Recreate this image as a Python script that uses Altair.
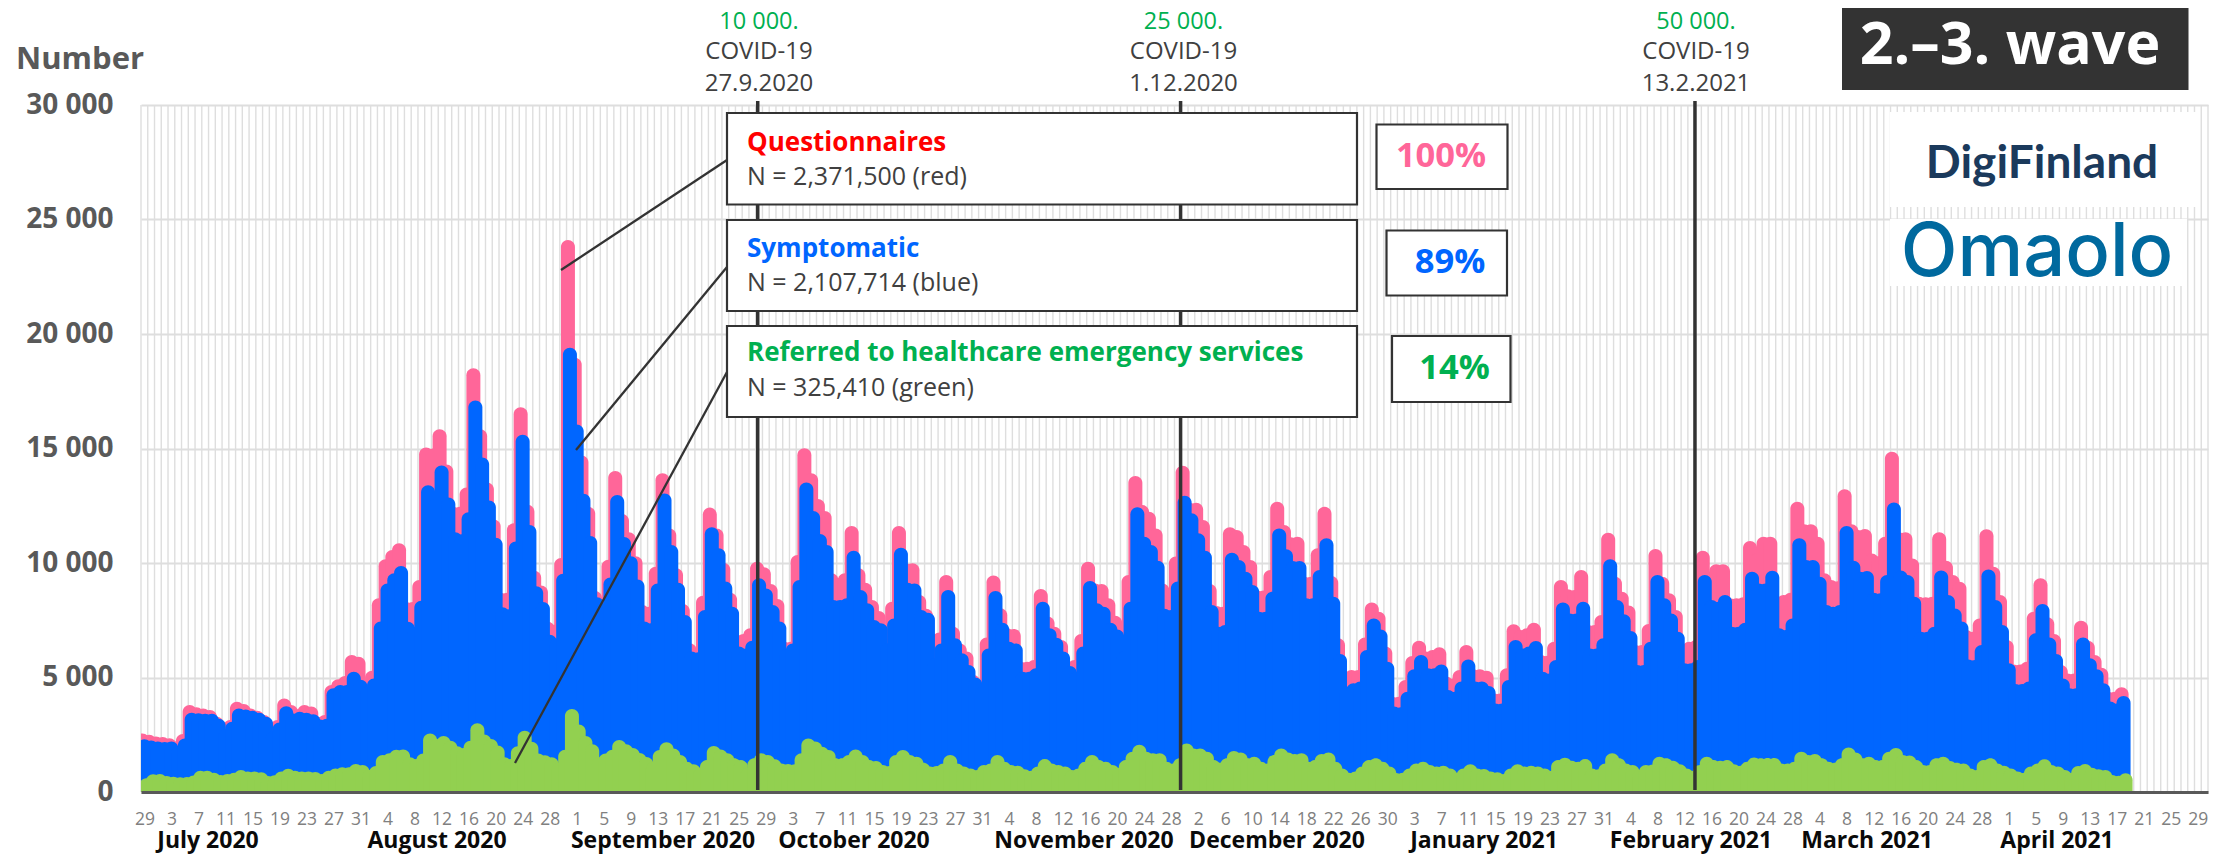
import json
import altair as alt
import pandas as pd

pink = [
2560,2500,2420,2400,2350,2200,2530, 3800,3700,3650,3580,3290,2780,3140,
3940,3840,3650,3550,3360,2700,3140, 4080,3800,3610,3800,3730,3290,3360,
4670,4920,5070,5980,5910,4890,5300, 8460,10160,10570,10860,8300,8300,9260,
15040,15000,15840,14300,12460,12460,13300, 18500,15840,13520,11900,8700,8700,11740,
16800,12540,9660,9020,7430,7300,10220, 24100,18960,14690,12460,8780,8500,10140,
14020,12140,11340,10300,8170,8090,9840, 13920,11510,9770,8210,6500,6200,8570,
12420,11510,10010,8700,6860,6900,7150, 10060,9810,9080,8430,6560,6560,10350,
15010,13920,12790,12270,9550,9330,9550, 11620,9770,9140,8380,7900,6640,8310,
11620,9990,9990,8600,8000,6350,6960, 9480,7220,6490,6130,5110,4700,6750,
9450,8020,7150,7120,5690,5690,5760, 8860,7660,7220,6640,5700,5760,6900,
10060,9110,9080,8460,7700,6200,9480, 13800,12530,12240,11510,9110,8900,10280,
14250,12630,12630,11880,9080,8120,8090, 11560,11440,10790,10130,8800,8800,9690,
12680,11660,11120,11150,9400,9400,10640, 12460,9430,6710,5180,5330,5330,6750,
8270,7870,6350,4160,4160,4890,5940, 6610,6130,6200,6320,5040,4960,5330,
6420,5360,5360,5300,4310,4300,5400, 7320,7070,7150,7390,5980,5950,6560,
9260,8850,8820,9690,7290,7290,7730, 11320,9400,8750,8140,6420,6420,7340,
10610,9400,8680,7950,6270,6560,6640, 10540,9620,9940,9940,8460,8460,8500,
10960,10420,11150,11150,8460,8600,8700, 12680,11690,11690,11150,9550,9260,9200,
13220,11690,11440,11490,10420,10300,11150, 14860,11340,11340,10200,8530,8500,8530,
11340,10100,9480,9180,7070,7000,7580, 11470,9840,8600,6640,5570,5570,5690,
7870,9330,7630,6900,5550,5180,5180, 7480,6610,5980,5430,4380,4380,4570,
]
blue = [
2300,2250,2200,2180,2200,2000,2340, 3460,3440,3420,3420,3200,2750,3070,
3650,3600,3550,3460,3290,2650,3030, 3750,3430,3500,3460,3390,3170,3200,
4530,4670,4670,5250,4900,4600,4960, 7440,9100,9550,9870,7430,7200,8350,
13400,12800,14260,12860,11340,11260,12220, 17100,14610,12730,11100,8065,7985,10940,
15600,11660,8990,8300,6870,6700,9530, 19400,16050,13020,11180,8500,8065,9370,
12970,11130,10300,9280,7440,7370,9110, 13040,10790,9140,7730,6130,6100,7950,
11560,10640,9190,8090,6350,6270,6610, 9330,8890,8170,7440,6200,6490,9260,
13520,12270,11270,10790,8380,8380,8460, 10540,8820,8240,7510,7370,6500,7580,
10670,9140,9110,7950,7830,5840,6490, 8820,6710,6060,5550,5000,4600,6270,
8780,7390,6560,6490,5250,5250,5400, 8310,7150,6740,6130,5500,5250,6350,
9210,8240,8090,7390,7100,6130,8310, 12430,11150,10790,10100,8000,7950,9190,
12940,12170,11300,10540,8170,7220,7290, 10450,10130,9620,9040,7870,7870,8750,
11510,10600,10090,10090,8460,8460,9690, 11080,8530,6030,4600,4750,4820,6200,
7580,7100,5690,3730,3700,4380,5360, 5980,5400,5400,5570,4450,4380,4820,
5790,4820,4820,4630,3870,3870,4890, 6640,6270,6350,6590,5250,5180,5760,
8270,7800,7800,8310,6270,6270,6710, 10160,8380,7760,7030,5550,5550,6560,
9480,8460,7800,7000,5620,5620,5760, 9480,8380,8310,8600,7220,7220,7390,
9620,9110,9110,9660,7150,7070,7580, 11080,10130,10130,9400,8170,8090,8170,
11620,10100,9620,9650,8700,8680,9480, 12640,9670,9480,8530,7000,7000,7220,
9670,8600,8010,7440,5790,5760,6420, 9720,8380,7290,5620,4720,4720,4820,
6930,8210,6750,6030,4960,4530,4530, 6750,5840,5360,4750,3950,3870,4190,
]
green = [
600,780,790,700,670,640,650, 720,930,930,840,740,790,840,
960,890,890,860,700,730,890, 1020,930,890,890,870,790,930,
1030,1080,1080,1220,1180,960,1135, 1615,1690,1840,1860,1520,1440,1680,
2555,2310,2440,2240,2000,1920,2240, 3000,2510,2310,2030,1520,1440,2000,
2680,2190,1680,1600,1520,1280,1840, 3625,2950,2440,2080,1520,1680,1840,
2270,2080,1920,1700,1530,1320,1830, 2170,1900,1620,1320,1210,1060,1400,
2010,1860,1690,1470,1400,1060,1470, 1690,1620,1430,1250,1220,1210,1690,
2340,2200,1980,1830,1470,1470,1620, 1860,1620,1400,1350,1180,1140,1620,
1830,1620,1540,1280,1110,1140,1250, 1620,1250,1110,1030,960,1180,1250,
1620,1320,1180,1150,990,930,1110, 1440,1250,1180,1110,960,1030,1320,
1620,1400,1320,1180,1060,1400,1760, 2060,1760,1690,1690,1320,1250,1470,
2120,1900,1900,1760,1400,1280,1470, 1790,1720,1470,1540,1320,1250,1620,
1900,1720,1660,1690,1320,1400,1660, 1730,1320,1030,840,890,1110,1400,
1470,1320,1110,830,840,1030,1250, 1320,1180,1110,1150,1030,840,1030,
1210,1030,1000,890,860,790,1030, 1210,1110,1150,1110,1030,930,1400,
1500,1370,1320,1440,1030,990,1250, 1690,1470,1250,1180,960,1180,1200,
1540,1470,1370,1210,1030,930,1180, 1540,1400,1370,1400,1210,1150,1320,
1510,1470,1480,1480,1250,1250,1320, 1760,1620,1660,1470,1320,1280,1470,
1940,1720,1470,1540,1400,1400,1760, 1920,1620,1590,1400,1180,1180,1470,
1540,1350,1280,1250,1030,960,1400, 1470,1250,1150,1030,890,840,1110,
1250,1430,1180,1110,960,840,1140, 1220,1060,990,960,740,710,815,
]
tick_labels = ["29",
 "3","7","11","15","19","23","27","31",
 "4","8","12","16","20","24","28",
 "1","5","9","13","17","21","25","29",
 "3","7","11","15","19","23","27","31",
 "4","8","12","16","20","24","28",
 "2","6","10","14","18","22","26","30",
 "3","7","11","15","19","23","27","31",
 "4","8","12","16","20","24","28",
 "4","8","12","16","20","24","28",
 "1","5","9","13","17","21","25","29"]
months = ["July 2020","August 2020","September 2020","October 2020","November 2020",
          "December 2020","January 2021","February 2021","March 2021","April 2021"]
milestones = [("10 000.","27.9.2020"),("25 000.","1.12.2020"),("50 000.","13.2.2021")]

FONT = "Open Sans"
GRID = "#dedede"
DARK = "#333333"
PINK, BLUE, LEAF = "#ff6699", "#0066ff", "#92d050"
N_DAYS = 306
PXDAY = 2067 / N_DAYS
PXVAL = 687 / 30000

# page position -> scale value, used for annotations only
def D(px): return (px - 141) / PXDAY
def V(py): return (792 - py) / PXVAL

xs = alt.Scale(domain=[0, N_DAYS], nice=False, zero=False, padding=0)
ys = alt.Scale(domain=[0, 30000], nice=False, padding=0)
tick_pos = [0.5 + 4 * k for k in range(len(tick_labels))]
x_axis = alt.Axis(
    values=tick_pos, labelExpr=f"{json.dumps(tick_labels)}[round((datum.value-0.5)/4)]",
    labelOverlap=False, labelFlush=False, labelFont=FONT, labelFontSize=17.5, labelColor="#808080",
    labelPadding=18, tickSize=0, grid=False, domainColor="#595959", domainWidth=3, title=None, zindex=1)
y_axis = alt.Axis(
    values=[0, 5000, 10000, 15000, 20000, 25000, 30000],
    labelExpr="replace(format(datum.value, ','), ',', ' ')",
    labelFont=FONT, labelFontSize=28, labelFontWeight="bold", labelColor="#595959",
    labelPadding=28, tickSize=0, domain=False, grid=True, gridColor=GRID, gridWidth=2.2, title=None)
X = alt.X("x:Q", scale=xs, axis=x_axis)
Y = alt.Y("y:Q", scale=ys, axis=y_axis, stack=None)

def series(values, color, offset):
    df = pd.DataFrame({"x": [i + 0.5 for i in range(len(values))], "y": values})
    return alt.Chart(df).mark_bar(size=14, color=color, xOffset=offset, clip=True,
                                  cornerRadiusTopLeft=7, cornerRadiusTopRight=7).encode(x=X, y=Y)

def box(l, r, t, b, fill="white", stroke=DARK, sw=2.2):
    df = pd.DataFrame([{"x": D(l), "x1": D(r), "y": V(t), "y1": V(b)}])
    kw = dict(fill=fill, strokeWidth=sw)
    if stroke:
        kw["stroke"] = stroke
    return alt.Chart(df).mark_rect(**kw).encode(x=X, x2="x1:Q", y=Y, y2="y1:Q")

def label(text, px, py, size, color, weight="normal", align="center", font=FONT):
    df = pd.DataFrame([{"x": D(px), "y": V(py), "t": text}])
    return alt.Chart(df).mark_text(fontSize=size, color=color, fontWeight=weight, align=align,
                                   baseline="middle", font=font).encode(x=X, y=Y, text="t:N")

# vertical grid
vgrid = alt.Chart(pd.DataFrame({"x": list(range(N_DAYS + 1))})).mark_rule(
    color=GRID, strokeWidth=1.4).encode(x=X)

# milestone lines
rule_days = [91.3, 153.9, 230.05]
rules = alt.Chart(pd.DataFrame({"x": rule_days, "y": [V(101)] * 3, "y1": [V(790)] * 3})).mark_rule(
    color=DARK, strokeWidth=3.5).encode(x=X, y=Y, y2="y1:Q")

# connectors
conn = pd.DataFrame([
    {"k": 1, "x": D(561), "y": V(270)}, {"k": 1, "x": D(727), "y": V(160)},
    {"k": 2, "x": D(576), "y": V(450)}, {"k": 2, "x": D(727), "y": V(267)},
    {"k": 3, "x": D(515), "y": V(763)}, {"k": 3, "x": D(727), "y": V(372)},
])
connectors = alt.Chart(conn).mark_line(color=DARK, strokeWidth=2.3).encode(x=X, y=Y, detail="k:N")

layers = [vgrid, series(pink, PINK, -2), series(blue, BLUE, 0), series(green, LEAF, 2),
          rules, connectors]

# logo patches
layers += [box(1890, 2200, 112, 207, stroke=None), box(1890, 2187, 219, 286, stroke=None)]
layers += [label("DigiFinland", 2042, 164, 46, "#1b3a5c", "bold", font="Lato"),
           label("Omaolo", 2037, 254, 74, "#00699e", 500, font="Inter")]

# legend boxes
layers += [box(727, 1357, 113, 204.5), box(727, 1357, 220, 311), box(727, 1357, 326, 417)]
layers += [
    label("Questionnaires", 747, 143, 26, "#ff0000", "bold", "left"),
    label("N = 2,371,500 (red)", 747, 177, 25, "#404040", "normal", "left"),
    label("Symptomatic", 747, 249, 26, BLUE, "bold", "left"),
    label("N = 2,107,714 (blue)", 747, 283, 25, "#404040", "normal", "left"),
    label("Referred to healthcare emergency services", 747, 353, 26, "#00b050", "bold", "left"),
    label("N = 325,410 (green)", 747, 388, 25, "#404040", "normal", "left"),
]
# percentage boxes
layers += [box(1376.5, 1507.5, 124.5, 189), box(1386.5, 1507, 230.5, 295.5), box(1392, 1510.5, 336, 402)]
layers += [label("100%", 1441, 157, 34.5, PINK, "bold"),
           label("89%", 1450, 263, 34.5, BLUE, "bold"),
           label("14%", 1454.5, 369, 34.5, "#00b050", "bold")]
# milestones
for (count, date), cx in zip(milestones, [759, 1183.5, 1696]):
    layers += [label(count, cx, 22, 23.5, "#00b050"),
               label("COVID-19", cx, 52, 24, "#404040"),
               label(date, cx, 84, 24, "#404040")]
# month names
for name, cx in zip(months, [208, 437, 663, 854, 1084, 1277, 1484, 1691, 1867, 2057]):
    layers.append(label(name, cx, 841, 23, "#0a0a0a", "bold"))

# corner labels
layers += [label("Number", 16, 60, 31, "#595959", "bold", "left"),
           box(1842, 2188.5, 8, 90, fill=DARK, stroke=None),
           label("2.–3. wave", 2010, 46, 59, "white", "bold")]

chart = alt.layer(*layers).properties(
    width=2067, height=687,
    padding={"left": 133, "top": 97, "right": 13, "bottom": 63},
    autosize=alt.AutoSizeParams(type="none"),
    background="white",
).configure_view(stroke=None)

chart.save("out.html", embed_options={"renderer": "svg", "actions": False})
